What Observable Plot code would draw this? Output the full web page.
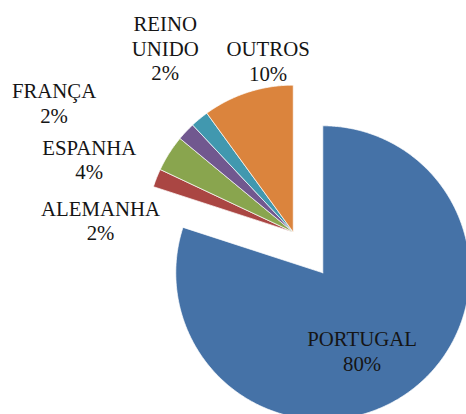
<!DOCTYPE html>
<html>
<head>
<meta charset="utf-8">
<script src="https://cdn.jsdelivr.net/npm/d3@7"></script>
<script src="https://cdn.jsdelivr.net/npm/@observablehq/plot@0.6"></script>
<style>
  html, body { margin: 0; padding: 0; background: #ffffff; }
  #chart svg { display: block; }
</style>
</head>
<body>
<div id="chart"></div>
<script>
// ---- data ----
const categories = ["PORTUGAL", "ALEMANHA", "ESPANHA", "FRANÇA", "REINO UNIDO", "OUTROS"];
const shares = [80, 2, 4, 2, 2, 10];
const labelNames = ["PORTUGAL", "ALEMANHA", "ESPANHA", "FRANÇA", "REINO\nUNIDO", "OUTROS"];
const exploded = [false, true, true, true, true, true];

// ---- style / layout ----
const colors = ["#4572A7", "#AA4643", "#89A54E", "#71588F", "#4198AF", "#DB843D"];
const W = 466, H = 414;
const R = 147;                 // pie radius in px
const cx = 322.3, cy = 272.3;  // pie centre in px
const explodeDist = 0.342;     // in radius units
// label offsets from each slice's centre, in radius units (x right, y up)
const labelDx = [0.267, -1.311, -1.388, -1.627, -0.871, -0.171];
const labelDy = [-0.529, 0.080, 0.497, 0.880, 1.252, 1.166];

const arcs = d3.pie().sort(null).value(d => d)(shares);
const exArcs = arcs.filter((a, i) => exploded[i]);
const gMid = (d3.min(exArcs, a => a.startAngle) + d3.max(exArcs, a => a.endAngle)) / 2;
const offX = explodeDist * Math.sin(gMid), offY = explodeDist * Math.cos(gMid);

const points = [];
const labels = [];
arcs.forEach((a, i) => {
  const ox = exploded[i] ? offX : 0, oy = exploded[i] ? offY : 0;
  const cat = categories[i];
  points.push({cat, x: ox, y: oy});
  const n = Math.max(4, Math.ceil((a.endAngle - a.startAngle) / 0.01));
  for (let k = 0; k <= n; k++) {
    const t = a.startAngle + (a.endAngle - a.startAngle) * k / n;
    points.push({cat, x: ox + Math.sin(t), y: oy + Math.cos(t)});
  }
  points.push({cat, x: ox, y: oy});
  labels.push({
    cat,
    x: ox + labelDx[i],
    y: oy + labelDy[i],
    text: labelNames[i] + "\n" + shares[i] + "%"
  });
});

const chart = Plot.plot({
  width: W,
  height: H,
  margin: 0,
  style: {background: "#ffffff"},
  x: {domain: [-cx / R, (W - cx) / R], axis: null},
  y: {domain: [-(H - cy) / R, cy / R], axis: null},
  color: {domain: categories, range: colors},
  marks: [
    Plot.line(points, {x: "x", y: "y", z: "cat", fill: "cat", stroke: "#ffffff", strokeWidth: 0.7, curve: "linear"}),
    Plot.text(labels, {
      x: "x", y: "y", text: "text",
      fontSize: 20.8, fontFamily: "Liberation Serif",
      lineHeight: 1.18, lineAnchor: "middle", textAnchor: "middle",
      fill: "#151515"
    })
  ]
});
document.getElementById("chart").appendChild(chart);
</script>
</body>
</html>
